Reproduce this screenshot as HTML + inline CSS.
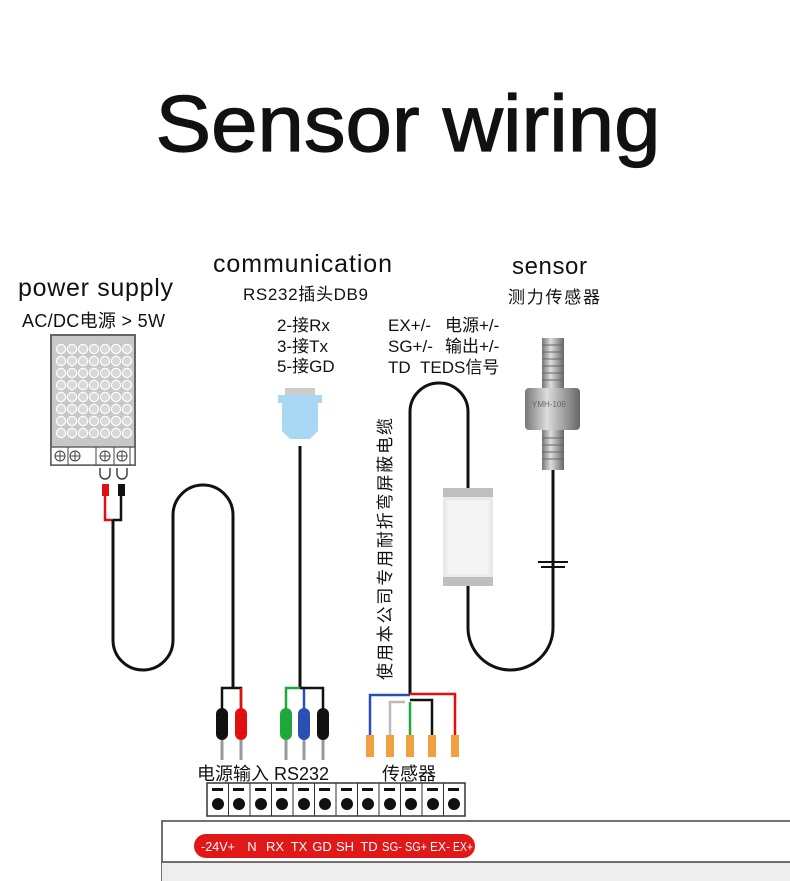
<!DOCTYPE html>
<html><head><meta charset="utf-8"><style>
body{margin:0;background:#fff;}
svg{display:block;font-family:"Liberation Sans","Noto Sans CJK SC",sans-serif;}
</style></head><body>
<svg width="790" height="881" viewBox="0 0 790 881" xmlns="http://www.w3.org/2000/svg">
<text x="408" y="151" font-size="80" text-anchor="middle" fill="#111" stroke="#111" stroke-width="1.2" textLength="505" lengthAdjust="spacingAndGlyphs">Sensor wiring</text>

<text x="18" y="296" font-size="25" fill="#111" textLength="155">power supply</text>
<text x="22" y="327" font-size="18" fill="#111" textLength="143">AC/DC电源 &gt; 5W</text>
<text x="213" y="272" font-size="25" fill="#111" textLength="179">communication</text>
<text x="243" y="300" font-size="17" fill="#111" textLength="125">RS232插头DB9</text>
<text x="277" y="331" font-size="17" fill="#111">2-接Rx</text>
<text x="277" y="352" font-size="17" fill="#111">3-接Tx</text>
<text x="277" y="372" font-size="17" fill="#111">5-接GD</text>
<text x="512" y="274" font-size="24" fill="#111" textLength="75">sensor</text>
<text x="508" y="303" font-size="17" fill="#111" textLength="92">测力传感器</text>
<g font-size="17" fill="#111">
<text x="388" y="331">EX+/-</text><text x="445" y="331">电源+/-</text>
<text x="388" y="352">SG+/-</text><text x="445" y="352">输出+/-</text>
<text x="388" y="373">TD</text><text x="420" y="373">TEDS信号</text>
</g>
<text transform="translate(391,680) rotate(-90)" font-size="17" fill="#111" textLength="262">使用本公司专用耐折弯屏蔽电缆</text>

<!-- power supply -->
<rect x="51" y="335" width="84" height="130" fill="#c8c8c8" stroke="#666" stroke-width="2"/>
<rect x="51" y="447" width="84" height="18" fill="#fff" stroke="#666" stroke-width="1.5"/>
<g stroke="#444" stroke-width="1" fill="none">
<circle cx="60" cy="456" r="5"/><path d="M55 456h10M60 451v10"/>
<circle cx="75" cy="456" r="5"/><path d="M70 456h10M75 451v10"/>
<circle cx="105" cy="456" r="5"/><path d="M100 456h10M105 451v10"/>
<circle cx="122" cy="456" r="5"/><path d="M117 456h10M122 451v10"/>
<line x1="68" y1="447" x2="68" y2="465"/><line x1="96" y1="447" x2="96" y2="465"/><line x1="114" y1="447" x2="114" y2="465"/><line x1="130" y1="447" x2="130" y2="465"/>
<path d="M100 468v6a5 5 0 0 0 10 0v-6M117 468v6a5 5 0 0 0 10 0v-6" stroke-width="1.5"/>
</g>
<rect x="102" y="484" width="7" height="12" fill="#e01010"/>
<rect x="118" y="484" width="7" height="12" fill="#111"/>
<path d="M105 496v24h9" stroke="#e01010" stroke-width="2.5" fill="none"/>
<path d="M121 496v24h-8" stroke="#111" stroke-width="2.5" fill="none"/>

<!-- cables -->
<g fill="none" stroke="#111" stroke-width="3">
<path d="M113 520V640a30 30 0 0 0 60 0V515a30 30 0 0 1 60 0V688"/>
<path d="M300 446V688"/>
<path d="M410 694V412a29 29 0 0 1 58 0V489"/>
<path d="M468 585V628a42.5 42 0 0 0 85 0V470"/>
</g>
<path d="M538 562h30M541 567h24" stroke="#111" stroke-width="2"/>
<!-- shield box -->
<rect x="443" y="488" width="50" height="98" fill="#eaeaea"/>
<rect x="443" y="488" width="50" height="9" fill="#bfbfbf"/>
<rect x="443" y="577" width="50" height="9" fill="#bfbfbf"/>
<rect x="447" y="500" width="42" height="74" fill="#f4f4f4"/>

<!-- sensor -->
<defs><linearGradient id="m" x1="0" x2="1"><stop offset="0" stop-color="#777"/><stop offset=".4" stop-color="#ddd"/><stop offset="1" stop-color="#666"/></linearGradient></defs>
<rect x="542" y="338" width="22" height="52" fill="url(#m)"/>
<rect x="525" y="388" width="55" height="42" rx="4" fill="url(#m)"/>
<rect x="542" y="430" width="22" height="40" fill="url(#m)"/>
<g stroke="#666" stroke-width="1"><path d="M542 345h22M542 352h22M542 359h22M542 366h22M542 373h22M542 380h22M542 438h22M542 445h22M542 452h22M542 459h22"/></g>
<text x="532" y="407" font-size="8" fill="#666">YMH-106</text>

<!-- DB9 -->
<rect x="285" y="388" width="30" height="8" fill="#ccc"/>
<path d="M278 395h44v8h-4v28l-8 8h-20l-8-8v-28h-4z" fill="#a9d8f5"/>

<!-- power plugs -->
<path d="M232 688h-10v22M232 688h9v22" stroke="#111" stroke-width="2.5" fill="none"/>
<path d="M241 688v22" stroke="#e01010" stroke-width="2.5"/>
<rect x="216" y="708" width="12" height="32" rx="6" fill="#111"/>
<rect x="235" y="708" width="12" height="32" rx="6" fill="#e01010"/>
<!-- rs232 plugs -->
<path d="M300 688h-14v22" stroke="#1fa83a" stroke-width="2.5" fill="none"/>
<path d="M300 688h4v22" stroke="#2a4fb5" stroke-width="2.5" fill="none"/>
<path d="M300 688h23v22" stroke="#111" stroke-width="2.5" fill="none"/>
<rect x="280" y="708" width="12" height="32" rx="6" fill="#1fa83a"/>
<rect x="298" y="708" width="12" height="32" rx="6" fill="#2a4fb5"/>
<rect x="317" y="708" width="12" height="32" rx="6" fill="#111"/>
<g stroke="#999" stroke-width="3"><path d="M222 740v20M241 740v20M286 740v20M304 740v20M323 740v20"/></g>

<!-- sensor wires -->
<g fill="none" stroke-width="2.5">
<path d="M410 695h-40v40" stroke="#2a4fb5"/>
<path d="M405 702h-15v33" stroke="#bbb"/>
<path d="M410 702v33" stroke="#1fa83a"/>
<path d="M410 700h22v35" stroke="#111"/>
<path d="M410 694h45v41" stroke="#e01010"/>
</g>
<g fill="#f0a040"><rect x="366" y="735" width="8" height="22"/><rect x="386" y="735" width="8" height="22"/><rect x="406" y="735" width="8" height="22"/><rect x="428" y="735" width="8" height="22"/><rect x="451" y="735" width="8" height="22"/></g>

<text x="197" y="780" font-size="18" fill="#111">电源输入 RS232</text>
<text x="382" y="780" font-size="18" fill="#111">传感器</text>

<!-- terminal block -->
<rect x="207" y="783" width="258" height="33" fill="#fff" stroke="#333" stroke-width="1.5"/>
<g stroke="#333" stroke-width="1"><path d="M228.5 783v33M250 783v33M271.5 783v33M293 783v33M314.5 783v33M336 783v33M357.5 783v33M379 783v33M400.5 783v33M422 783v33M443.5 783v33"/></g>
<g fill="#111">
<rect x="212" y="788" width="11" height="3"/><circle cx="218" cy="804" r="6"/>
<rect x="233" y="788" width="11" height="3"/><circle cx="239" cy="804" r="6"/>
<rect x="255" y="788" width="11" height="3"/><circle cx="261" cy="804" r="6"/>
<rect x="276" y="788" width="11" height="3"/><circle cx="282" cy="804" r="6"/>
<rect x="298" y="788" width="11" height="3"/><circle cx="304" cy="804" r="6"/>
<rect x="319" y="788" width="11" height="3"/><circle cx="325" cy="804" r="6"/>
<rect x="341" y="788" width="11" height="3"/><circle cx="347" cy="804" r="6"/>
<rect x="362" y="788" width="11" height="3"/><circle cx="368" cy="804" r="6"/>
<rect x="384" y="788" width="11" height="3"/><circle cx="390" cy="804" r="6"/>
<rect x="405" y="788" width="11" height="3"/><circle cx="411" cy="804" r="6"/>
<rect x="427" y="788" width="11" height="3"/><circle cx="433" cy="804" r="6"/>
<rect x="448" y="788" width="11" height="3"/><circle cx="454" cy="804" r="6"/>
</g>
<rect x="162" y="821" width="640" height="70" fill="#fff" stroke="#444" stroke-width="1.5"/>
<rect x="162" y="862" width="640" height="30" fill="#eee"/>
<line x1="162" y1="862" x2="790" y2="862" stroke="#444" stroke-width="1.5"/>
<rect x="194" y="834" width="281" height="24" rx="12" fill="#e01818"/>
<g fill="#fff" font-size="13" text-anchor="middle">
<text x="218" y="851" textLength="34" lengthAdjust="spacingAndGlyphs">-24V+</text><text x="252" y="851">N</text><text x="275" y="851">RX</text><text x="299" y="851">TX</text><text x="322" y="851">GD</text><text x="345" y="851">SH</text><text x="369" y="851">TD</text><text x="392" y="851" textLength="20" lengthAdjust="spacingAndGlyphs">SG-</text><text x="416" y="851" textLength="22" lengthAdjust="spacingAndGlyphs">SG+</text><text x="440" y="851" textLength="20" lengthAdjust="spacingAndGlyphs">EX-</text><text x="463" y="851" textLength="20" lengthAdjust="spacingAndGlyphs">EX+</text>
</g>
<g fill="#d8d8d8" stroke="#fff" stroke-width="1.2">
<circle cx="61" cy="349" r="4.6"/><circle cx="72" cy="349" r="4.6"/><circle cx="83" cy="349" r="4.6"/><circle cx="94" cy="349" r="4.6"/><circle cx="105" cy="349" r="4.6"/><circle cx="116" cy="349" r="4.6"/><circle cx="127" cy="349" r="4.6"/>
<circle cx="61" cy="361" r="4.6"/><circle cx="72" cy="361" r="4.6"/><circle cx="83" cy="361" r="4.6"/><circle cx="94" cy="361" r="4.6"/><circle cx="105" cy="361" r="4.6"/><circle cx="116" cy="361" r="4.6"/><circle cx="127" cy="361" r="4.6"/>
<circle cx="61" cy="373" r="4.6"/><circle cx="72" cy="373" r="4.6"/><circle cx="83" cy="373" r="4.6"/><circle cx="94" cy="373" r="4.6"/><circle cx="105" cy="373" r="4.6"/><circle cx="116" cy="373" r="4.6"/><circle cx="127" cy="373" r="4.6"/>
<circle cx="61" cy="385" r="4.6"/><circle cx="72" cy="385" r="4.6"/><circle cx="83" cy="385" r="4.6"/><circle cx="94" cy="385" r="4.6"/><circle cx="105" cy="385" r="4.6"/><circle cx="116" cy="385" r="4.6"/><circle cx="127" cy="385" r="4.6"/>
<circle cx="61" cy="397" r="4.6"/><circle cx="72" cy="397" r="4.6"/><circle cx="83" cy="397" r="4.6"/><circle cx="94" cy="397" r="4.6"/><circle cx="105" cy="397" r="4.6"/><circle cx="116" cy="397" r="4.6"/><circle cx="127" cy="397" r="4.6"/>
<circle cx="61" cy="409" r="4.6"/><circle cx="72" cy="409" r="4.6"/><circle cx="83" cy="409" r="4.6"/><circle cx="94" cy="409" r="4.6"/><circle cx="105" cy="409" r="4.6"/><circle cx="116" cy="409" r="4.6"/><circle cx="127" cy="409" r="4.6"/>
<circle cx="61" cy="421" r="4.6"/><circle cx="72" cy="421" r="4.6"/><circle cx="83" cy="421" r="4.6"/><circle cx="94" cy="421" r="4.6"/><circle cx="105" cy="421" r="4.6"/><circle cx="116" cy="421" r="4.6"/><circle cx="127" cy="421" r="4.6"/>
<circle cx="61" cy="433" r="4.6"/><circle cx="72" cy="433" r="4.6"/><circle cx="83" cy="433" r="4.6"/><circle cx="94" cy="433" r="4.6"/><circle cx="105" cy="433" r="4.6"/><circle cx="116" cy="433" r="4.6"/><circle cx="127" cy="433" r="4.6"/>
</g>
</svg>
</body></html>
